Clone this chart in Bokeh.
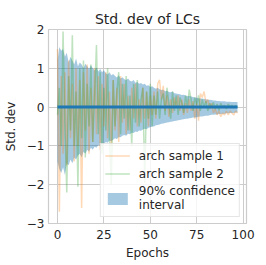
from bokeh.plotting import figure
from bokeh.models import FixedTicker, Range1d, Spacer
from bokeh.layouts import column
from bokeh.embed import file_html
from bokeh.resources import INLINE

epochs = list(range(98))

upper = [1.2, 1.55, 1.45, 1.5, 1.3, 1.4, 1.15, 1.3, 1.2, 1.1,
         1.25, 1.05, 1.15, 1.1, 1.0, 1.12, 1.05, 0.98, 1.08, 1.0,
         0.95, 1.02, 0.92, 0.98, 0.9, 0.95, 0.87, 0.84, 0.9, 0.82,
         0.85, 0.8, 0.76, 0.82, 0.74, 0.77, 0.72, 0.7, 0.74, 0.68,
         0.66, 0.7, 0.63, 0.65, 0.6, 0.62, 0.58, 0.6, 0.55, 0.56,
         0.52, 0.54, 0.5, 0.47, 0.5, 0.46, 0.44, 0.45, 0.41, 0.42,
         0.39, 0.38, 0.4, 0.36, 0.35, 0.34, 0.33, 0.31, 0.32, 0.3,
         0.28, 0.29, 0.27, 0.26, 0.25, 0.24, 0.23, 0.22, 0.22, 0.21,
         0.2, 0.19, 0.19, 0.18, 0.17, 0.17, 0.16, 0.16, 0.15, 0.15,
         0.15, 0.14, 0.14, 0.14, 0.13, 0.13, 0.13, 0.13]

lower = [-1.4, -1.6, -1.7, -1.55, -1.75, -1.45, -1.5, -1.35, -1.45, -1.3,
         -1.35, -1.25, -1.2, -1.3, -1.15, -1.2, -1.1, -1.15, -1.05, -1.1,
         -1.02, -1.05, -0.98, -1.0, -0.94, -0.96, -0.9, -0.92, -0.86, -0.88,
         -0.84, -0.8, -0.82, -0.77, -0.78, -0.74, -0.72, -0.74, -0.69, -0.7,
         -0.66, -0.67, -0.63, -0.64, -0.6, -0.61, -0.58, -0.56, -0.57, -0.53,
         -0.52, -0.5, -0.5, -0.47, -0.46, -0.45, -0.43, -0.42, -0.41, -0.4,
         -0.39, -0.38, -0.37, -0.36, -0.35, -0.34, -0.33, -0.32, -0.31, -0.3,
         -0.3, -0.29, -0.28, -0.27, -0.27, -0.26, -0.25, -0.24, -0.24, -0.23,
         -0.22, -0.22, -0.21, -0.2, -0.2, -0.19, -0.19, -0.18, -0.18, -0.17,
         -0.17, -0.16, -0.16, -0.15, -0.15, -0.15, -0.14, -0.14]

sample1 = [1.5, -2.7, 0.8, -1.2, 0.9, -1.5, 1.2, -0.8, 0.6, -1.4,
           1.0, -1.0, 0.7, -2.6, 0.9, -0.6, 1.1, -1.2, 0.5, -0.9,
           1.0, -0.7, 0.8, -1.1, 0.6, -0.5, 0.9, -0.8, 0.4, -1.0,
           0.7, -0.6, 0.5, -0.9, 0.8, -0.4, 0.6, -0.7, 0.3, -0.6,
           0.5, -0.3, 0.6, -0.5, 0.2, -0.4, 0.5, -0.3, 0.4, -0.5,
           0.3, -0.2, 0.4, -0.3, 0.6, 0.7, 0.2, 0.55, -0.1, 0.3,
           -0.25, 0.2, -0.15, 0.25, 0.0, 0.3, -0.1, 0.2, -0.2, 0.1,
           -0.15, 0.2, -0.1, 0.15, -0.3, 0.1, -0.35, 0.35, 0.25, 0.4,
           0.1, 0.2, -0.05, 0.1, -0.15, -0.05, -0.2, -0.1, -0.25, -0.15,
           -0.2, -0.1, -0.2, -0.1, -0.15, -0.2, -0.1, -0.15]

sample2 = [-0.2, 0.5, -1.0, 1.95, -0.5, -2.2, 0.8, -0.6, 1.85, -1.0,
           0.4, -2.05, 1.0, -0.8, 1.2, -1.3, 0.6, -0.5, 1.1, -0.9,
           0.3, 1.6, -0.7, 0.9, -1.2, 0.5, -0.6, 1.0, -0.8, -2.0,
           0.7, -0.5, 0.4, 0.9, -0.7, 0.6, -0.3, 0.8, -0.6, 0.3,
           -1.0, 0.6, -0.4, 0.7, -0.5, 0.2, 0.5, -1.95, 0.4, -0.3,
           0.6, -0.5, 0.3, -0.2, 0.4, -0.3, 0.2, 0.35, -0.2, 0.5,
           0.1, -0.3, 0.4, -0.1, 0.3, -0.2, 0.25, 0.1, -0.15, 0.3,
           0.0, 0.45, 0.2, -0.1, 0.25, 0.05, 0.3, -0.1, 0.2, 0.0,
           0.15, -0.1, 0.1, 0.0, 0.12, -0.05, 0.08, -0.08, 0.1, 0.0,
           0.05, -0.05, 0.08, 0.0, 0.05, -0.02, 0.04, 0.0]

mean = [0.0] * len(epochs)

x_ticks = [0, 25, 50, 75, 100]
y_ticks = [-3, -2, -1, 0, 1, 2]
y_tick_labels = {-3: "\u22123", -2: "\u22122", -1: "\u22121", 0: "0", 1: "1", 2: "2"}

FONT = "DejaVu Sans"
TXT = "#262626"
GRID = "#cccccc"

p = figure(frame_width=198, frame_height=194, output_backend="svg",
           toolbar_location=None, title="Std. dev of LCs",
           x_range=Range1d(-4.85, 101.85), y_range=Range1d(-3, 2),
           min_border_left=43, min_border_right=9, min_border_top=0,
           min_border_bottom=0)

p.varea(x=epochs, y1=lower, y2=upper, fill_color="#1f77b4", fill_alpha=0.4,
        legend_label="90% confidence\ninterval")
p.line(epochs, sample1, line_color="#ff7f0e", line_alpha=0.3, line_width=1.5,
       legend_label="arch sample 1")
p.line(epochs, sample2, line_color="#2ca02c", line_alpha=0.3, line_width=1.5,
       legend_label="arch sample 2")
p.line(epochs, mean, line_color="#1f77b4", line_width=3)

p.title.align = "center"
p.title.text_font = FONT
p.title.text_font_size = "14px"
p.title.text_font_style = "normal"
p.title.text_color = TXT
p.title.standoff = 6

for ax in (p.xaxis[0], p.yaxis[0]):
    ax.axis_line_color = None
    ax.major_tick_line_color = None
    ax.minor_tick_line_color = None
    ax.major_tick_out = 0
    ax.major_tick_in = 0
    ax.minor_tick_out = 0
    ax.major_label_text_font = FONT
    ax.major_label_text_font_size = "12px"
    ax.major_label_text_color = TXT
    ax.axis_label_text_font = FONT
    ax.axis_label_text_font_size = "12px"
    ax.axis_label_text_font_style = "normal"
    ax.axis_label_text_color = TXT

p.xaxis.ticker = FixedTicker(ticks=x_ticks)
p.yaxis.ticker = FixedTicker(ticks=y_ticks)
p.yaxis.major_label_overrides = y_tick_labels
p.xaxis.axis_label = "Epochs"
p.yaxis.axis_label = "Std. dev"
p.xaxis.major_label_standoff = 6
p.yaxis.major_label_standoff = 4
p.xaxis.axis_label_standoff = 4
p.yaxis.axis_label_standoff = 6

p.xgrid.grid_line_color = GRID
p.ygrid.grid_line_color = GRID
p.outline_line_color = GRID
p.outline_line_width = 1.2

leg = p.legend[0]
items = leg.items
leg.items = [items[1], items[2], items[0]]
leg.location = "bottom_right"
leg.margin = 6
leg.padding = 4
leg.spacing = 3
leg.glyph_width = 25
leg.glyph_height = 15
leg.label_height = 15
leg.label_standoff = 9
leg.label_text_font = FONT
leg.label_text_font_size = "12px"
leg.label_text_color = TXT
leg.border_line_color = GRID
leg.background_fill_alpha = 0.8

layout = column(Spacer(height=5), p, spacing=0)

open("out.html", "w").write(file_html(layout, INLINE))
